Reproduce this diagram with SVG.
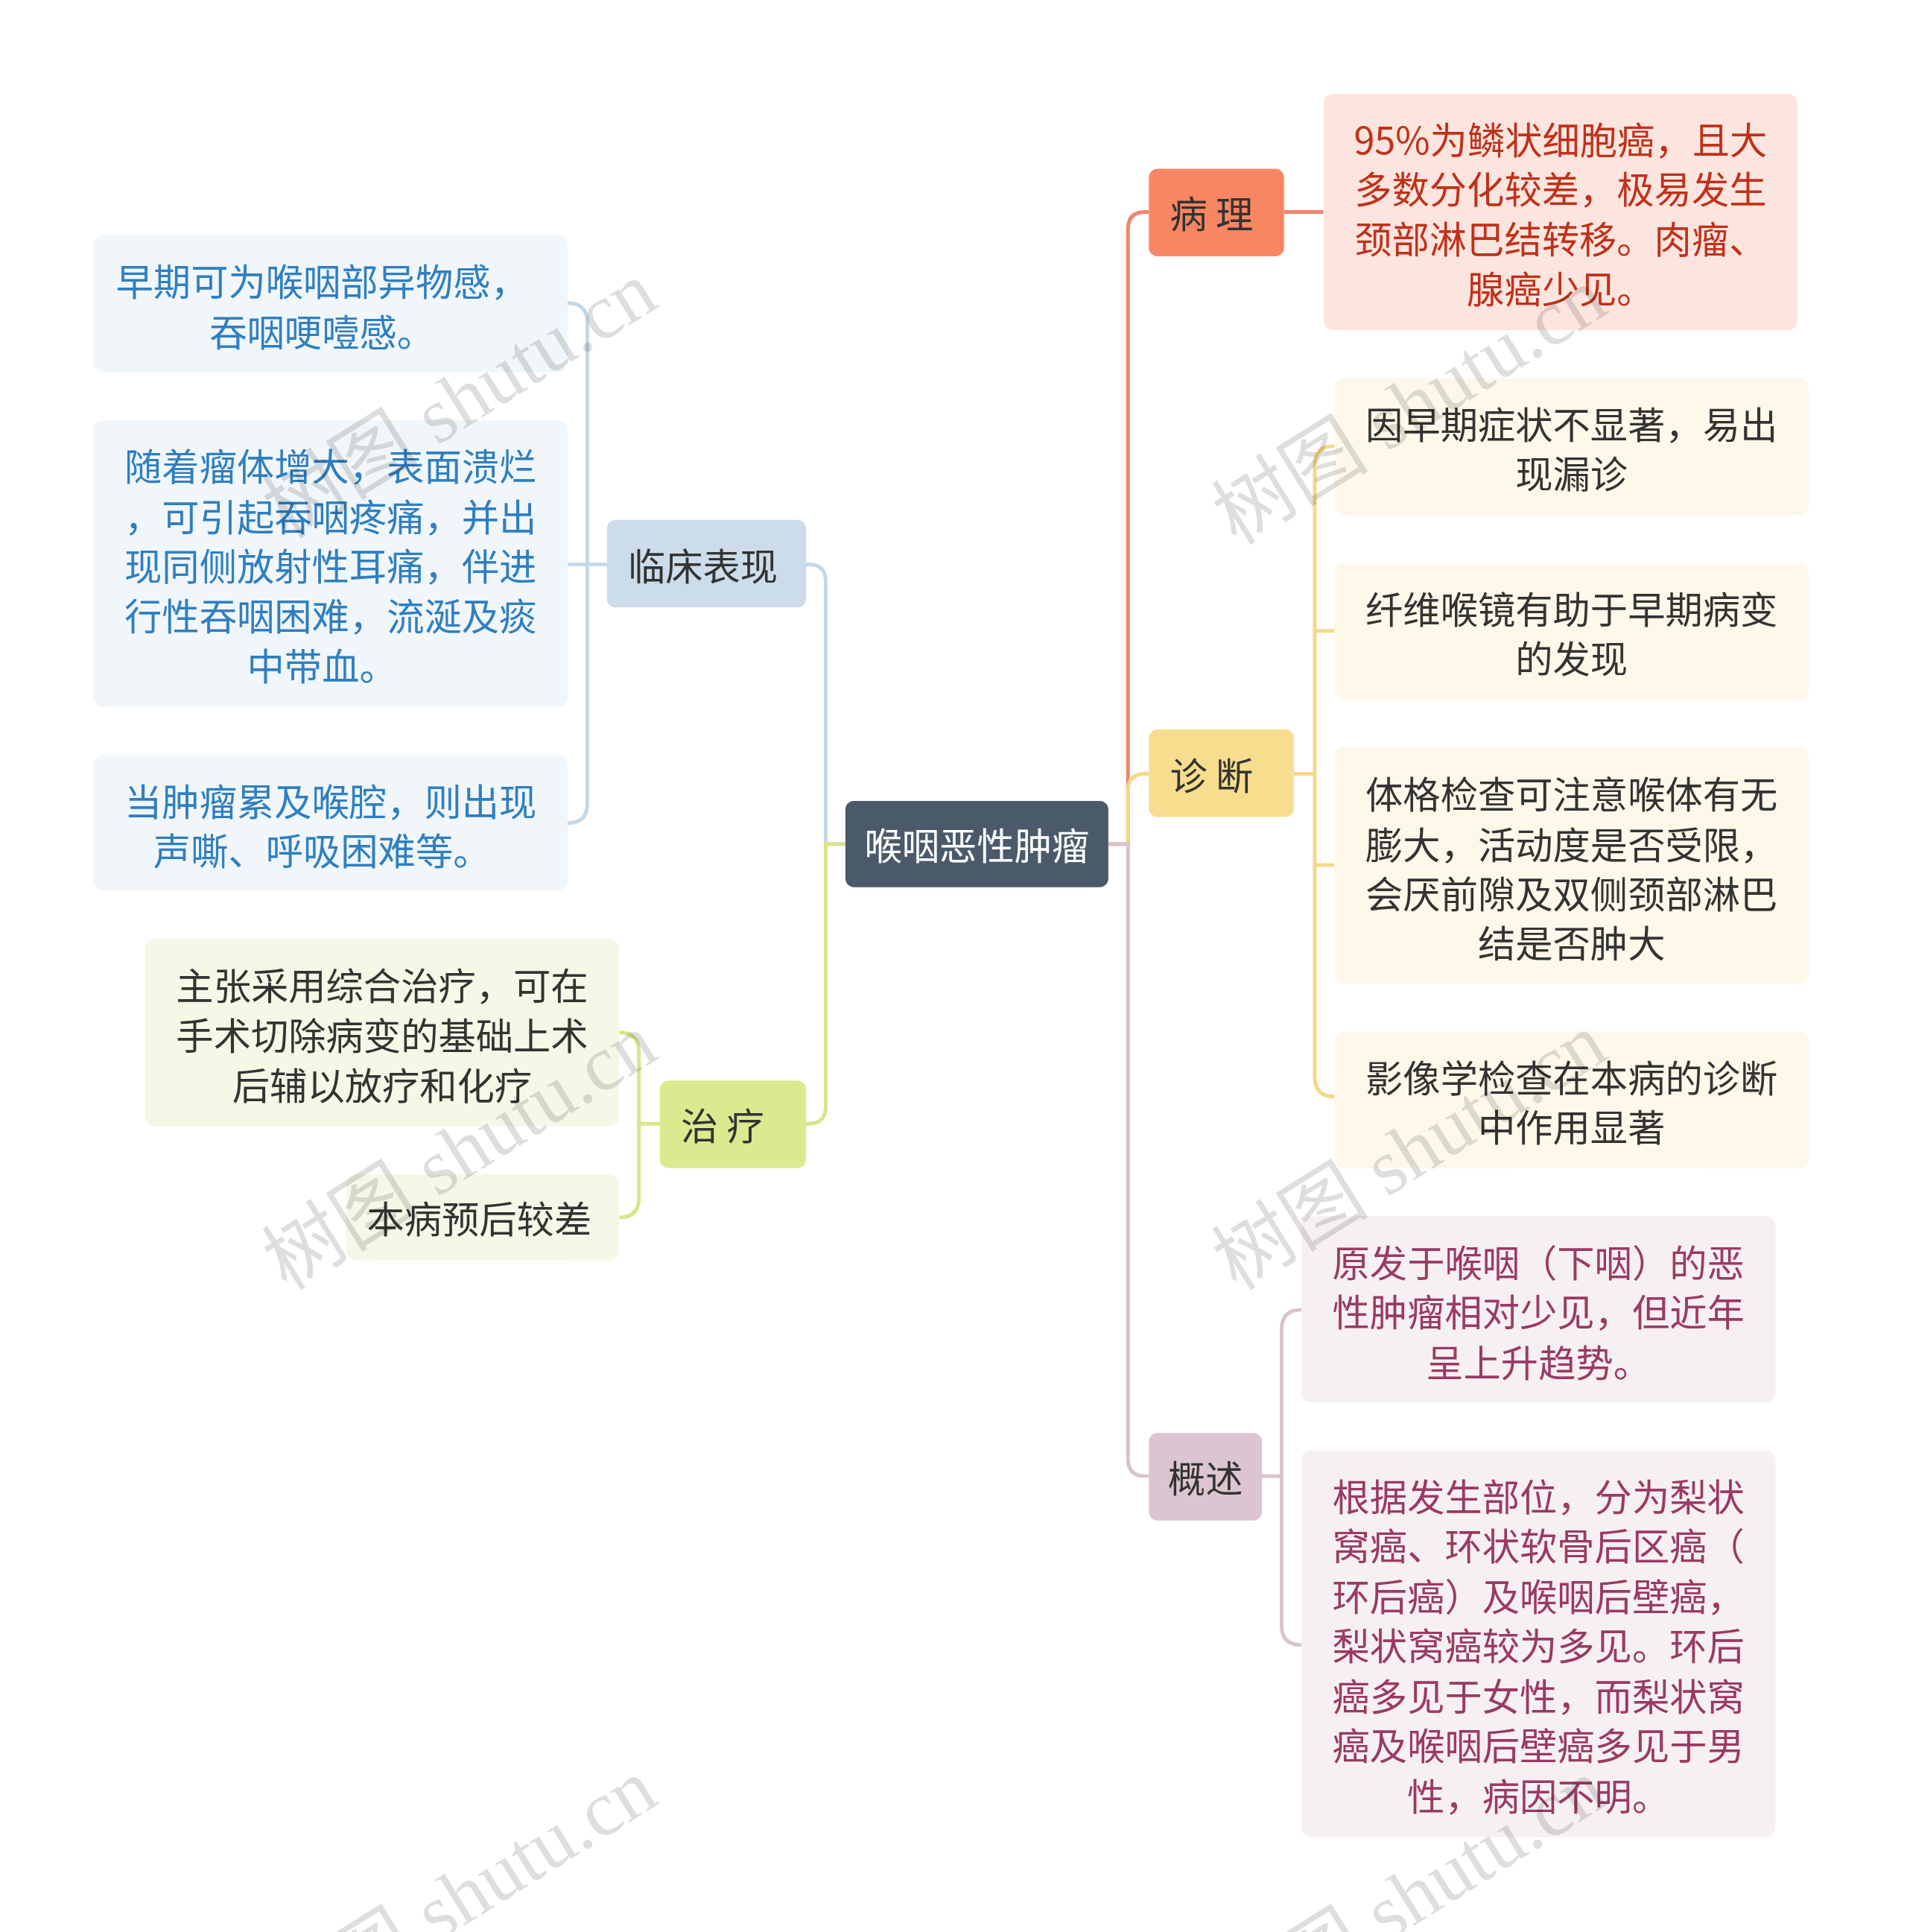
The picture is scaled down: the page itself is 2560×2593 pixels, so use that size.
<svg xmlns="http://www.w3.org/2000/svg" width="2560" height="2593" viewBox="0 0 2560 2593">
<style>
text{font-family:"Noto Sans CJK SC","Noto Sans",sans-serif;font-size:30.5px;text-anchor:middle;dominant-baseline:central}
.c{fill:none;stroke-width:3}
.wm{font-size:64px;fill:#000;fill-opacity:0.13;font-family:"Liberation Serif","Noto Sans CJK SC",serif;text-anchor:start}
</style>
<rect width="2560" height="2593" fill="#fff"/>
<g transform="scale(1.6495,1.6537)">
<g id="connectors">
<path class="c" stroke="#f0856a" d="M902 685 H918 V186 Q918 172 932 172 H935 M1045 172 H1077"/>
<path class="c" stroke="#f5d98a" d="M902 685 H918 V642 Q918 628 932 628 H935 M1053 628 H1070 M1086 362 Q1070 362 1070 378 V874 Q1070 890 1086 890 M1070 512 Q1070 512 1086 512 M1070 702 H1086"/>
<path class="c" stroke="#d9c3cc" d="M902 685 H918 V1184 Q918 1198 932 1198 H935 M1027 1198 H1043 M1059 1063 Q1043 1063 1043 1079 V1319 Q1043 1335 1059 1335"/>
<path class="c" stroke="#c5d8e8" d="M688 685 H672 V472 Q672 458 658 458 H656 M494 458 H462 M462 246 Q478 246 478 262 V652 Q478 668 462 668"/>
<path class="c" stroke="#d8e58a" d="M688 685 H672 V898 Q672 912 658 912 H656 M537 912 H520 M504 838 Q520 838 520 854 V972 Q520 988 504 988"/>
</g>
<g id="root"><rect x="688" y="650" width="214" height="70" rx="7" fill="#4a5a6a"/><text x="795" y="685" fill="#fff">喉咽恶性肿瘤</text></g>
<g id="bingli"><rect x="935" y="137" width="110" height="71" rx="7" fill="#f98663"/><text x="986" y="172" fill="#333">病 理</text></g>
<g id="bingli-1"><rect x="1077" y="76" width="386" height="192" rx="8" fill="#fde5df"/>
<text fill="#c0311a"><tspan x="1270" y="112">95%为鳞状细胞癌，且大</tspan><tspan x="1270" y="152">多数分化较差，极易发生</tspan><tspan x="1270" y="192">颈部淋巴结转移。肉瘤、</tspan><tspan x="1270" y="233">腺癌少见。</tspan></text></g>
<g id="zhenduan"><rect x="935" y="592" width="118" height="71" rx="7" fill="#f7dd8e"/><text x="986" y="628" fill="#333">诊 断</text></g>
<g id="zd1"><rect x="1086" y="307" width="386" height="111" rx="8" fill="#fdf8e9"/><text fill="#333"><tspan x="1279" y="343">因早期症状不显著，易出</tspan><tspan x="1279" y="383">现漏诊</tspan></text></g>
<g id="zd2"><rect x="1086" y="457" width="386" height="111" rx="8" fill="#fdf8e9"/><text fill="#333"><tspan x="1279" y="493">纤维喉镜有助于早期病变</tspan><tspan x="1279" y="533">的发现</tspan></text></g>
<g id="zd3"><rect x="1086" y="606" width="386" height="192" rx="8" fill="#fdf8e9"/><text fill="#333"><tspan x="1279" y="643">体格检查可注意喉体有无</tspan><tspan x="1279" y="684">膨大，活动度是否受限，</tspan><tspan x="1279" y="724">会厌前隙及双侧颈部淋巴</tspan><tspan x="1279" y="764">结是否肿大</tspan></text></g>
<g id="zd4"><rect x="1086" y="837" width="386" height="111" rx="8" fill="#fdf8e9"/><text fill="#333"><tspan x="1279" y="873">影像学检查在本病的诊断</tspan><tspan x="1279" y="913">中作用显著</tspan></text></g>
<g id="gaishu"><rect x="935" y="1163" width="92" height="71" rx="7" fill="#dcc5d0"/><text x="981" y="1198" fill="#333">概述</text></g>
<g id="gs1"><rect x="1059" y="987" width="386" height="151" rx="8" fill="#f6f0f2"/><text fill="#9a3a64"><tspan x="1252" y="1023">原发于喉咽（下咽）的恶</tspan><tspan x="1252" y="1063">性肿瘤相对少见，但近年</tspan><tspan x="1252" y="1104">呈上升趋势。</tspan></text></g>
<g id="gs2"><rect x="1059" y="1177" width="386" height="314" rx="8" fill="#f6f0f2"/><text fill="#9a3a64"><tspan x="1252" y="1213">根据发生部位，分为梨状</tspan><tspan x="1252" y="1253">窝癌、环状软骨后区癌（</tspan><tspan x="1252" y="1294">环后癌）及喉咽后壁癌，</tspan><tspan x="1252" y="1334">梨状窝癌较为多见。环后</tspan><tspan x="1252" y="1375">癌多见于女性，而梨状窝</tspan><tspan x="1252" y="1415">癌及喉咽后壁癌多见于男</tspan><tspan x="1252" y="1456">性，病因不明。</tspan></text></g>
<g id="linchuang"><rect x="494" y="422" width="162" height="71" rx="7" fill="#ccdcea"/><text x="572" y="458" fill="#333">临床表现</text></g>
<g id="lc1"><rect x="76" y="191" width="386" height="111" rx="8" fill="#f1f6fa"/><text fill="#2f7fc1"><tspan x="262" y="227">早期可为喉咽部异物感，</tspan><tspan x="262" y="268">吞咽哽噎感。</tspan></text></g>
<g id="lc2"><rect x="76" y="341" width="386" height="233" rx="8" fill="#f1f6fa"/><text fill="#2f7fc1"><tspan x="269" y="377">随着瘤体增大，表面溃烂</tspan><tspan x="269" y="418">，可引起吞咽疼痛，并出</tspan><tspan x="269" y="458">现同侧放射性耳痛，伴进</tspan><tspan x="269" y="498">行性吞咽困难，流涎及痰</tspan><tspan x="262" y="539">中带血。</tspan></text></g>
<g id="lc3"><rect x="76" y="613" width="386" height="110" rx="8" fill="#f1f6fa"/><text fill="#2f7fc1"><tspan x="269" y="649">当肿瘤累及喉腔，则出现</tspan><tspan x="262" y="689">声嘶、呼吸困难等。</tspan></text></g>
<g id="zhiliao"><rect x="537" y="877" width="119" height="71" rx="7" fill="#dde98f"/><text x="588" y="912" fill="#333">治 疗</text></g>
<g id="zl1"><rect x="118" y="762" width="386" height="152" rx="8" fill="#f5f8e6"/><text fill="#333"><tspan x="311" y="798">主张采用综合治疗，可在</tspan><tspan x="311" y="839">手术切除病变的基础上术</tspan><tspan x="311" y="879">后辅以放疗和化疗</tspan></text></g>
<g id="zl2"><rect x="282" y="953" width="222" height="70" rx="8" fill="#f5f8e6"/><text x="390" y="988" fill="#333">本病预后较差</text></g>
<g class="wm">
<text class="wm" transform="translate(222,420) rotate(-32)">树图 shutu.cn</text>
<text class="wm" transform="translate(995,425) rotate(-32)">树图 shutu.cn</text>
<text class="wm" transform="translate(222,1030) rotate(-32)">树图 shutu.cn</text>
<text class="wm" transform="translate(995,1030) rotate(-32)">树图 shutu.cn</text>
<text class="wm" transform="translate(222,1635) rotate(-32)">树图 shutu.cn</text>
<text class="wm" transform="translate(995,1635) rotate(-32)">树图 shutu.cn</text>
</g>
</g>
</svg>
